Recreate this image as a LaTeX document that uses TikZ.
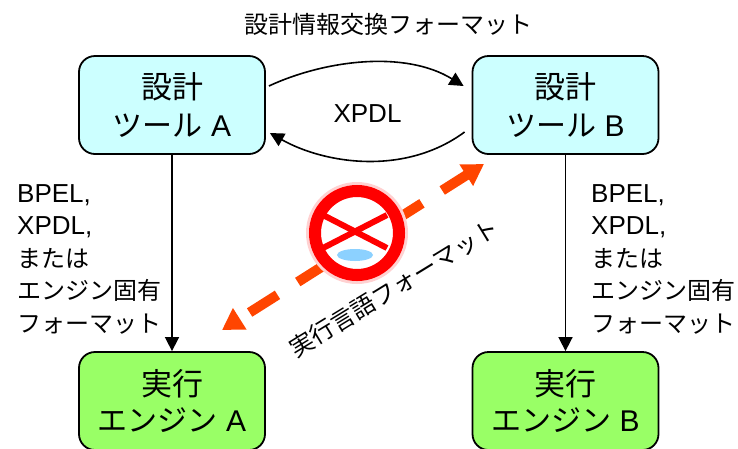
\documentclass[tikz,border=0pt]{standalone}
\usepackage{fontspec}
\setmainfont{Liberation Sans}
\newfontfamily\cjk{Noto Sans CJK JP}
\usetikzlibrary{arrows.meta}
\definecolor{cyanbox}{RGB}{204,255,255}
\definecolor{greenbox}{RGB}{153,255,102}
\definecolor{arrowred}{RGB}{255,69,0}
\newcommand{\kj}[1]{{\fontsize{31}{39}\selectfont\cjk #1}}
\newcommand{\kn}[1]{{\fontsize{30}{39}\selectfont\cjk #1}}
\newcommand{\lb}[1]{{\fontsize{24}{32.5}\selectfont\cjk #1}}
\tikzset{
  boxbase/.style={draw=black,line width=1.8pt,rounded corners=16pt,minimum width=186pt,minimum height=98pt,inner sep=0pt,align=center,font=\fontsize{30}{39}\selectfont},
  lab/.style={align=left,anchor=north west,inner sep=0pt,font=\fontsize{26}{32.5}\selectfont},
  conn/.style={draw=black,line width=1.6pt,-{Triangle[length=14pt,width=14pt]}},
  xarrow/.style={draw=arrowred,line width=10pt,dash pattern=on 33pt off 24pt,dash phase=44pt,{Triangle[length=21pt,width=24pt]}-{Triangle[length=21pt,width=24pt]}}
}
\begin{document}
\begin{tikzpicture}[x=1pt,y=-1pt]
\useasboundingbox (0,0) rectangle (738,448);
\clip (0,0) rectangle (738,448);
\node[boxbase,fill=cyanbox] (a) at (172,105) {\kj{設計}\\[-1pt]\kn{ツール} A};
\node[boxbase,fill=cyanbox] (b) at (565.5,105) {\kj{設計}\\[-1pt]\kn{ツール} B};
\node[boxbase,fill=greenbox] (c) at (172,401) {\kj{実行}\\[-3pt]\kn{エンジン} A};
\node[boxbase,fill=greenbox] (d) at (565.5,401) {\kj{実行}\\[-3pt]\kn{エンジン} B};
\draw[conn] (a.south) -- (c.north);
\draw[conn] (b.south) -- (d.north);
\draw[conn] ([shift={(3,-19)}]a.east) .. controls (325,60) and (405,50) .. ([shift={(-8,-19)}]b.west);
\draw[conn] ([shift={(-7,27)}]b.west) .. controls (405,176) and (325,164) .. ([shift={(4,28)}]a.east);
\node[font=\fontsize{26}{30}\selectfont] (x) at (367.5,114) {XPDL};
\node[font=\fontsize{24}{28}\selectfont\cjk] (t) at (388.5,24) {設計情報交換フォーマット};
\node[lab] (l1) at (17,184) {BPEL,\\XPDL,\\\lb{または}\\\lb{エンジン固有}\\\lb{フォーマット}};
\node[lab] (l2) at (591,184) {BPEL,\\XPDL,\\\lb{または}\\\lb{エンジン固有}\\\lb{フォーマット}};
\coordinate (p) at (222,330);
\coordinate (q) at (484,164);
\draw[xarrow] (p) -- (q);
\node[rotate=31.5,font=\fontsize{24}{28}\selectfont\cjk] (v) at (394,288) {実行言語フォーマット};
% no-entry icon
\coordinate (s) at (357,233);
\fill[red!18] (s) circle (51);
\fill[white] (s) circle (36);
\draw[red,line width=6pt] (323,215) -- (387,248);
\draw[red,line width=6pt] (323,248) -- (387,215);
\draw[red,line width=12pt] (s) circle (42);
\fill[blue!40!cyan,opacity=.45] (355,255) ellipse (18 and 6);
\end{tikzpicture}
\end{document}
